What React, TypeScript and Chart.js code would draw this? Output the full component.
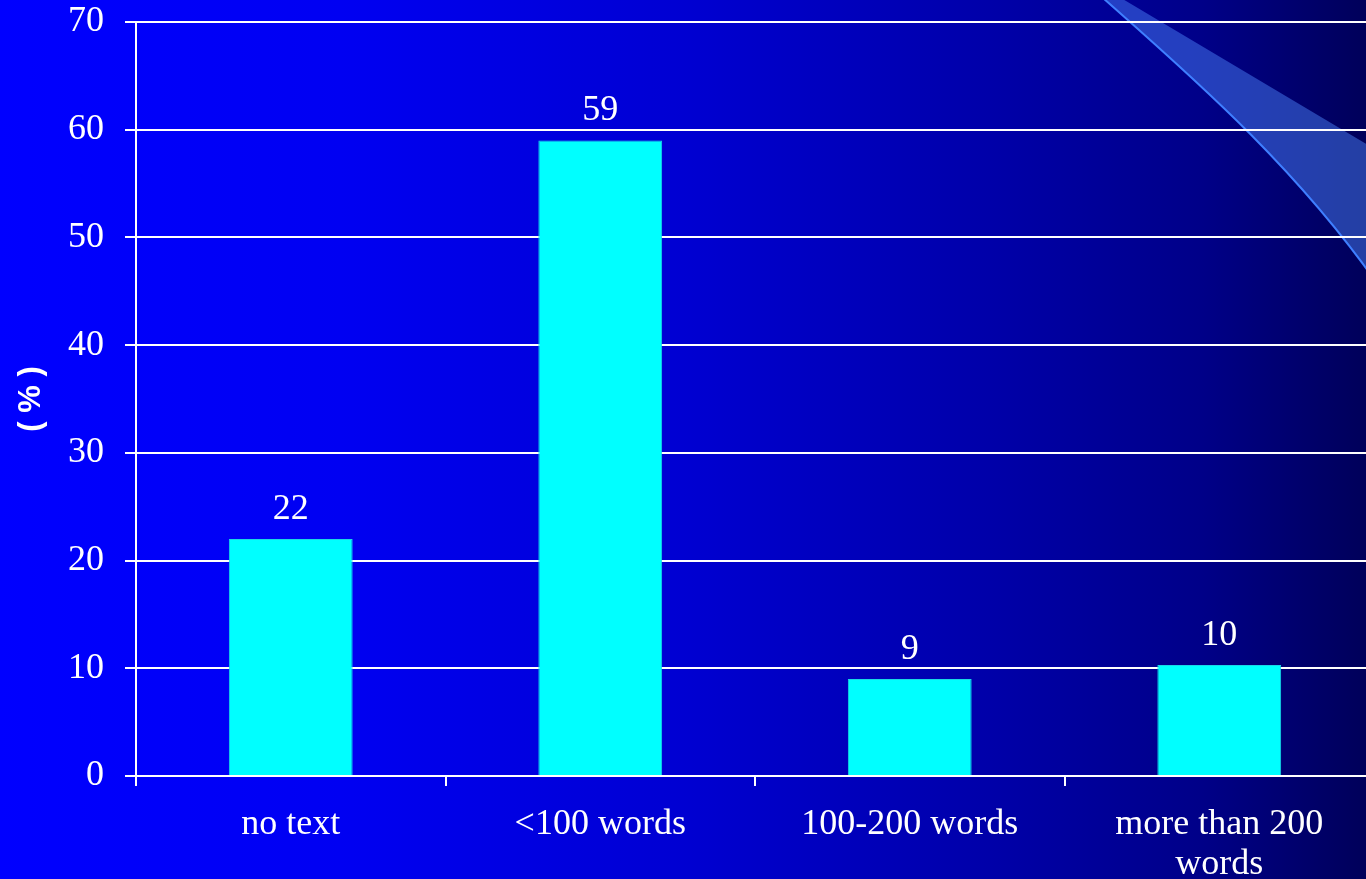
import React, { useEffect, useRef } from "react";
import { Chart, registerables } from "chart.js";

Chart.register(...registerables);

const categories: (string | string[])[] = ["no text", "<100 words", "100-200 words", ["more than 200", "words"]];
const shares: number[] = [22, 59, 9, 10.3];
const yTicks: number[] = [0, 10, 20, 30, 40, 50, 60, 70];
const yTitle = "( % )";

const SERIF = "'Liberation Serif', 'Times New Roman', serif";
const SANS = "'Liberation Sans', Arial, sans-serif";

const decoPlugin = {
  id: "deco",
  beforeDraw(chart: any) {
    const ctx = chart.ctx;
    ctx.save();
    ctx.beginPath();
    ctx.moveTo(1103, -2);
    ctx.bezierCurveTo(1190, 75, 1300, 170, 1385, 295);
    ctx.lineTo(1385, 155);
    ctx.lineTo(1121, -2);
    ctx.closePath();
    ctx.fillStyle = "rgba(80,140,255,0.45)";
    ctx.fill();
    ctx.beginPath();
    ctx.moveTo(1103, -2);
    ctx.bezierCurveTo(1190, 75, 1300, 170, 1385, 295);
    ctx.strokeStyle = "#3f7fff";
    ctx.lineWidth = 2;
    ctx.stroke();
    ctx.restore();
  },
};

const valueLabelPlugin = {
  id: "valueLabels",
  afterDatasetsDraw(chart: any) {
    const ctx = chart.ctx;
    const meta = chart.getDatasetMeta(0);
    ctx.save();
    ctx.fillStyle = "#ffffff";
    ctx.font = `36px ${SERIF}`;
    ctx.textAlign = "center";
    ctx.textBaseline = "alphabetic";
    meta.data.forEach((bar: any, i: number) => {
      ctx.fillText(String(Math.round(shares[i])), bar.x, bar.y - 20);
    });
    ctx.restore();
  },
};

export default function App() {
  const ref = useRef<HTMLCanvasElement | null>(null);

  useEffect(() => {
    document.body.style.margin = "0";
    document.body.style.overflow = "hidden";
    const canvas = ref.current!;
    const chart = new Chart(canvas, {
      type: "bar",
      data: {
        labels: categories,
        datasets: [
          {
            data: shares,
            backgroundColor: "#00ffff",
            borderColor: "#19d8e6",
            borderWidth: 1,
            barPercentage: 0.4,
            categoryPercentage: 1,
          },
        ],
      },
      plugins: [decoPlugin, valueLabelPlugin],
      options: {
        responsive: false,
        animation: false,
        devicePixelRatio: 1,
        layout: { autoPadding: false, padding: { top: 22, right: 2, left: 0, bottom: 0 } },
        plugins: { legend: { display: false }, tooltip: { enabled: false } },
        scales: {
          x: {
            grid: {
              display: true,
              drawOnChartArea: false,
              drawTicks: true,
              tickLength: 10,
              color: "#ffffff",
              lineWidth: 2,
            },
            border: { display: true, color: "#ffffff", width: 2 },
            ticks: {
              color: "#ffffff",
              font: { family: SERIF, size: 36, lineHeight: 1.1 },
              padding: 19,
              maxRotation: 0,
              autoSkip: false,
            },
            afterFit(scale: any) {
              scale.height = 103;
              scale.paddingLeft = 0;
              scale.paddingRight = 0;
            },
          },
          y: {
            min: 0,
            max: 70,
            afterBuildTicks(scale: any) {
              scale.ticks = yTicks.map((v) => ({ value: v }));
            },
            grid: {
              color: "#ffffff",
              lineWidth: 2,
              drawTicks: true,
              tickLength: 11,
            },
            border: { display: true, color: "#ffffff", width: 2 },
            ticks: {
              color: "#ffffff",
              font: { family: SERIF, size: 36 },
              padding: 21,
            },
            title: {
              display: true,
              text: yTitle,
              color: "#ffffff",
              font: { family: SANS, size: 31, weight: "bold" },
              padding: { top: 13, bottom: 0 },
            },
            afterFit(scale: any) {
              scale.width = 136;
              scale.paddingTop = 0;
              scale.paddingBottom = 0;
            },
          },
        },
      },
    });
    return () => chart.destroy();
  }, []);

  return (
    <div
      style={{
        position: "fixed",
        left: 0,
        top: 0,
        width: 1366,
        height: 879,
        overflow: "hidden",
        background:
          "linear-gradient(to right, #0000ff 0%, #0000f2 25%, #0000d2 50%, #0000a8 73%, #000088 88%, #00005a 100%)",
      }}
    >
      <canvas ref={ref} width={1376} height={879} style={{ display: "block", width: 1376, height: 879 }} />
    </div>
  );
}
